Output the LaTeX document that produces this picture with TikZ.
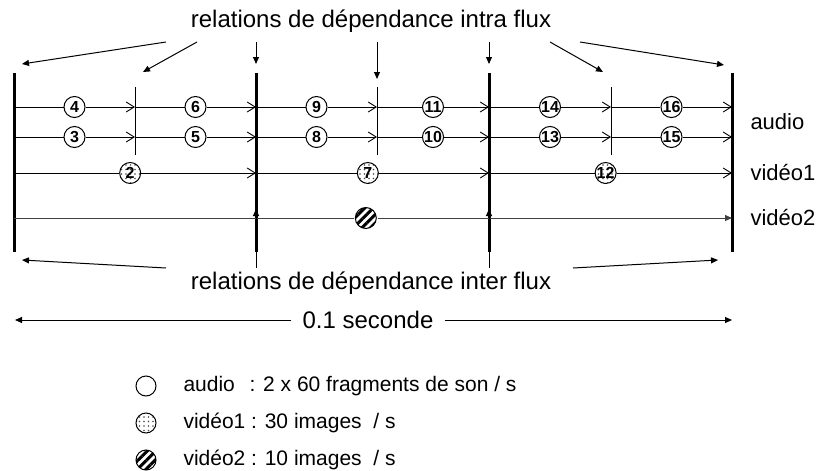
\documentclass[tikz,border=0pt]{standalone}
\usepackage{fontspec}
\setmainfont{Liberation Sans}
\usetikzlibrary{arrows.meta,patterns.meta}

\begin{document}
\begin{tikzpicture}[x=1pt,y=-1pt,line width=1pt,
    big bar/.style={line width=3pt},
    sub bar/.style={line width=1pt},
    seg/.style={line width=0.9pt},
    seg arr/.style={line width=0.9pt,-{Straight Barb[length=8pt,width=10pt,line width=0.9pt]}},
    rel/.style={line width=1pt,-{Triangle[length=7pt,width=6pt]}},
    frag/.style={circle,draw,line width=1pt,fill=white,minimum size=21pt,inner sep=0pt,font=\fontsize{16}{16}\selectfont\bfseries},
    img one/.style={frag,fill=none,preaction={fill=white},pattern={Dots[distance=4.5pt,radius=0.8pt]},pattern color=black!70},
    img two/.style={frag,fill=none,preaction={fill=white},pattern={Lines[angle=45,distance=6pt,line width=3pt]}},
    big txt/.style={font=\fontsize{24}{28}\selectfont},
    side txt/.style={font=\fontsize{22}{26}\selectfont,anchor=west,inner sep=0pt},
    leg txt/.style={font=\fontsize{21}{25}\selectfont,anchor=west,inner sep=0pt}]

    \useasboundingbox (0,0) rectangle (822,471);

    % bars and rows
    \foreach \x [count=\i from 0] in {14,135,256,377,489,611,732}
        \coordinate (P\i) at (\x,0);
    \coordinate (ra) at (0,107);
    \coordinate (rb) at (0,137);
    \coordinate (rc) at (0,173);
    \coordinate (rd) at (0,218);
    \coordinate (top) at (0,73);
    \coordinate (bot) at (0,252);
    \coordinate (stop) at (0,87);
    \coordinate (sbot) at (0,155);

    \foreach \i in {0,2,4,6}
        \draw[big bar] (P\i |- top) -- (P\i |- bot);
    \foreach \i in {1,3,5}
        \draw[sub bar] (P\i |- stop) -- (P\i |- sbot);

    % audio
    \foreach \i/\j/\up/\dn in {0/1/4/3,1/2/6/5,2/3/9/8,3/4/11/10,4/5/14/13,5/6/16/15} {
        \path (P\i |- ra) -- (P\j |- ra) node[frag,midway] (f\up) {\up};
        \path (P\i |- rb) -- (P\j |- rb) node[frag,midway] (f\dn) {\dn};
        \draw[seg] (P\i |- ra) -- (f\up);
        \draw[seg arr] (f\up) -- (P\j |- ra);
        \draw[seg] (P\i |- rb) -- (f\dn);
        \draw[seg arr] (f\dn) -- (P\j |- rb);
    }

    % video1
    \foreach \i/\j/\n in {0/2/2,2/4/7,4/6/12} {
        \path (P\i |- rc) -- (P\j |- rc) node[img one,pos=0.48] (f\n) {\n};
        \draw[seg] (P\i |- rc) -- (f\n);
        \draw[seg arr] (f\n) -- (P\j |- rc);
    }

    % video2
    \path (P0 |- rd) -- (P6 |- rd) node[img two,pos=0.49] (f1) {};
    \draw[seg,black!75] (P0 |- rd) -- (f1);
    \draw[rel,black!75] (f1) -- (P6 |- rd);

    \node[side txt] (l1) at (750,122) {audio};
    \node[side txt] (l2) at (750,173) {vidéo1};
    \node[side txt] (l3) at (750,218) {vidéo2};

    % intra flux
    \node[big txt] (intra) at (371,21) {relations de dépendance intra flux};
    \coordinate (i1) at (166,42);  \coordinate (j1) at (22,64);
    \coordinate (i2) at (197,42);  \coordinate (j2) at (143,72);
    \coordinate (i3) at (256,42);  \coordinate (j3) at (256,64);
    \coordinate (i4) at (377,42);  \coordinate (j4) at (377,79);
    \coordinate (i5) at (489,42);  \coordinate (j5) at (489,64);
    \coordinate (i6) at (550,42);  \coordinate (j6) at (603,72);
    \coordinate (i7) at (580,42);  \coordinate (j7) at (724,65);
    \foreach \k in {1,...,7}
        \draw[rel] (i\k) -- (j\k);

    % inter flux
    \node[big txt] (inter) at (371,283) {relations de dépendance inter flux};
    \coordinate (k1) at (166,268); \coordinate (m1) at (22,260);
    \coordinate (k2) at (256,268); \coordinate (m2) at (256,209);
    \coordinate (k3) at (489,268); \coordinate (m3) at (489,209);
    \coordinate (k4) at (573,268); \coordinate (m4) at (718,260);
    \foreach \k in {1,...,4}
        \draw[rel] (k\k) -- (m\k);

    % duration
    \node[big txt,inner xsep=11pt] (sec) at (368,320) {0.1 seconde};
    \coordinate (sl) at (15,320);
    \coordinate (sr) at (732,320);
    \draw[rel] (sec) -- (sl);
    \draw[rel] (sec) -- (sr);

    % legend
    \node[frag,minimum size=20pt] (g1) at (146,386) {};
    \node[img one,minimum size=20pt] (g2) at (146,423) {};
    \node[img two,minimum size=20pt] (g3) at (146,460) {};
    \node[leg txt] (t1) at (183,386) {audio\hspace{0.7em}: 2 x 60 fragments de son / s};
    \node[leg txt] (t2) at (183,423) {vidéo1 : 30 images\ \ / s};
    \node[leg txt] (t3) at (183,460) {vidéo2 : 10 images\ \ / s};

\end{tikzpicture}
\end{document}
